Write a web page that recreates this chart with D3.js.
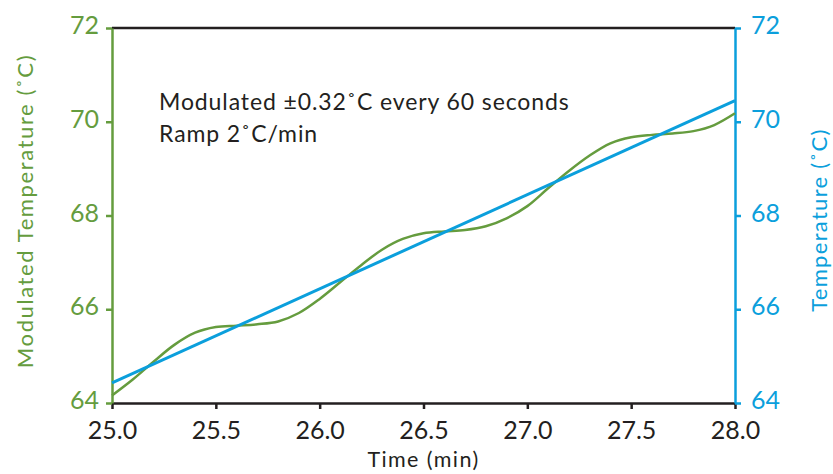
<!DOCTYPE html>
<html>
<head>
<meta charset="utf-8">
<script src="https://cdn.jsdelivr.net/npm/d3@7"></script>
<style>
  body { margin: 0; background: #fff; }
  text { font-family: "Lato", "DejaVu Sans", sans-serif; }
</style>
</head>
<body>
<div id="chart"></div>
<script>
// time in minutes
var times = [25.0, 25.1, 25.2, 25.3, 25.4, 25.5, 25.6, 25.7, 25.8, 25.9,
             26.0, 26.1, 26.2, 26.3, 26.4, 26.5, 26.6, 26.7, 26.8, 26.9,
             27.0, 27.1, 27.2, 27.3, 27.4, 27.5, 27.6, 27.7, 27.8, 27.9, 28.0];
// modulated temperature (green, left axis)
var modTemp = [64.16, 64.50, 64.88, 65.24, 65.50, 65.62, 65.65, 65.68, 65.74, 65.92,
               66.22, 66.58, 66.94, 67.27, 67.50, 67.62, 67.66, 67.69, 67.77, 67.94,
               68.20, 68.58, 68.95, 69.28, 69.54, 69.67, 69.72, 69.75, 69.80, 69.93, 70.18];
// ramp temperature (blue, right axis)
var rampTimes = [25.0, 28.0];
var rampTemp = [64.43, 70.45];

var xTicks = [25.0, 25.5, 26.0, 26.5, 27.0, 27.5, 28.0];
var yTicks = [64, 66, 68, 70, 72];

var green = "#659c3e", blue = "#0b9fdc", dark = "#231f20";
var width = 833, height = 474;
var margin = { top: 28, right: 98, bottom: 71, left: 112 };

var svg = d3.select("#chart").append("svg")
  .attr("width", width)
  .attr("height", height);

var x = d3.scaleLinear().domain([25, 28]).range([margin.left, width - margin.right]);
var yL = d3.scaleLinear().domain([64, 72]).range([height - margin.bottom, margin.top]);
var yR = d3.scaleLinear().domain([64, 72]).range([height - margin.bottom, margin.top]);

// top border
svg.append("line")
  .attr("x1", x(25)).attr("x2", x(28))
  .attr("y1", yL(72)).attr("y2", yL(72))
  .attr("stroke", dark).attr("stroke-width", 2.5);

// bottom axis
var gx = svg.append("g")
  .attr("transform", "translate(0," + yL(64) + ")")
  .call(d3.axisBottom(x).tickValues(xTicks).tickFormat(d3.format(".1f")).tickSize(6).tickSizeOuter(0));
gx.select(".domain").attr("stroke", dark).attr("stroke-width", 2.5);
gx.selectAll(".tick line").attr("stroke", dark).attr("stroke-width", 2.5);
gx.selectAll(".tick text")
  .attr("fill", dark).attr("font-size", 25)
  .attr("font-family", "'Liberation Sans', Arial, sans-serif")
  .attr("y", 36).attr("dy", 0);

// left axis
var gl = svg.append("g")
  .attr("transform", "translate(" + x(25) + ",0)")
  .call(d3.axisLeft(yL).tickValues(yTicks).tickSize(6).tickSizeOuter(0));
gl.select(".domain").attr("stroke", green).attr("stroke-width", 2.5);
gl.selectAll(".tick line").attr("stroke", green).attr("stroke-width", 2.5);
gl.selectAll(".tick text").attr("fill", green).attr("font-size", 25)
  .attr("x", -13).attr("dy", "0.22em");

// right axis
var gr = svg.append("g")
  .attr("transform", "translate(" + x(28) + ",0)")
  .call(d3.axisRight(yR).tickValues(yTicks).tickSize(6).tickSizeOuter(0));
gr.select(".domain").attr("stroke", blue).attr("stroke-width", 2.5);
gr.selectAll(".tick line").attr("stroke", blue).attr("stroke-width", 2.5);
gr.selectAll(".tick text").attr("fill", blue).attr("font-size", 25)
  .attr("x", 16).attr("dy", "0.22em");

// modulated curve
var modLine = d3.line()
  .x(function (d, i) { return x(times[i]); })
  .y(function (d) { return yL(d); })
  .curve(d3.curveCatmullRom.alpha(0.5));
svg.append("path")
  .datum(modTemp)
  .attr("d", modLine)
  .attr("fill", "none")
  .attr("stroke", green)
  .attr("stroke-width", 2.5);

// ramp line
var rampLine = d3.line()
  .x(function (d, i) { return x(rampTimes[i]); })
  .y(function (d) { return yR(d); });
svg.append("path")
  .datum(rampTemp)
  .attr("d", rampLine)
  .attr("fill", "none")
  .attr("stroke", blue)
  .attr("stroke-width", 3);

// annotation
svg.append("text").attr("x", 159).attr("y", 110)
  .attr("font-size", 23).attr("letter-spacing", 0.9).attr("fill", dark)
  .text("Modulated ±0.32˚C every 60 seconds");
svg.append("text").attr("x", 159).attr("y", 142)
  .attr("font-size", 23).attr("letter-spacing", 0.9).attr("fill", dark)
  .text("Ramp 2˚C/min");

// axis titles
svg.append("text")
  .attr("transform", "translate(33,211) rotate(-90)")
  .attr("text-anchor", "middle")
  .attr("font-size", 22).attr("letter-spacing", 1.6).attr("fill", green)
  .text("Modulated Temperature (˚C)");
svg.append("text")
  .attr("transform", "translate(827,220) rotate(-90)")
  .attr("text-anchor", "middle")
  .attr("font-size", 22).attr("letter-spacing", 1.3).attr("fill", blue)
  .text("Temperature (˚C)");
svg.append("text")
  .attr("x", x(26.5)).attr("y", 467)
  .attr("text-anchor", "middle")
  .attr("font-size", 21.5).attr("letter-spacing", 1.4).attr("fill", dark)
  .text("Time (min)");
</script>
</body>
</html>
